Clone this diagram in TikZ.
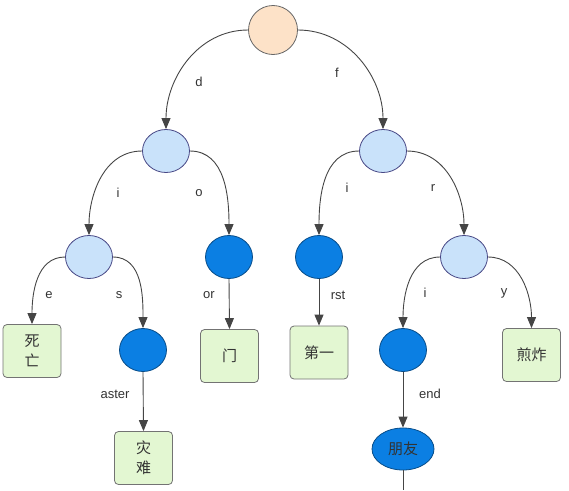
\documentclass[tikz,border=0pt]{standalone}
\usepackage{fontspec}
\setmainfont{Liberation Sans}
\newfontfamily\cjk{Noto Sans CJK SC}
\usetikzlibrary{arrows.meta,shapes.geometric}
\definecolor{rootfill}{HTML}{FDE2C8}
\definecolor{lightfill}{HTML}{C9E2FA}
\definecolor{darkfill}{HTML}{0B7FE3}
\definecolor{leaffill}{HTML}{E3F7D2}
\definecolor{edgecol}{HTML}{454545}
\definecolor{labcol}{HTML}{333333}
\begin{document}
\begin{tikzpicture}[x=1pt,y=-1pt,
  rootnode/.style={circle,draw=gray!80!black,fill=rootfill,line width=0.8pt,minimum size=49pt,inner sep=0pt},
  lightnode/.style={ellipse,draw=gray!70!blue!80!black,fill=lightfill,line width=0.8pt,minimum width=47pt,minimum height=43pt,inner sep=0pt},
  darknode/.style={ellipse,draw=darkfill!60!black,fill=darkfill,line width=0.8pt,minimum width=47pt,minimum height=43pt,inner sep=0pt},
  leafbox/.style={rectangle,rounded corners=4pt,draw=gray!90!black,fill=leaffill,line width=0.8pt,minimum width=58pt,minimum height=53pt,inner sep=0pt,font=\cjk\fontsize{15}{20}\selectfont,text=labcol,align=center},
  conn/.style={draw=edgecol,line width=0.9pt,-{Triangle[length=11pt,width=9pt]}},
  lab/.style={font=\fontsize{13}{15}\selectfont,text=labcol,inner sep=0pt}]
\useasboundingbox (0,0) rectangle (569,490);
% nodes
\node[rootnode] (root) at (273,30) {};
\node[lightnode] (d) at (166,151) {};
\node[lightnode] (f) at (383,151) {};
\node[lightnode] (di) at (89,257) {};
\node[darknode] (do) at (229,257) {};
\node[darknode] (fi) at (319,257) {};
\node[lightnode] (fr) at (464,257) {};
\node[leafbox] (sw) at (32,351) {死\\亡};
\node[darknode] (ds) at (143,350) {};
\node[leafbox] (men) at (229.5,356) {门};
\node[leafbox] (zn) at (143.5,458) {灾\\难};
\node[leafbox] (dy) at (319,352.5) {第一};
\node[darknode] (fri) at (403,350) {};
\node[leafbox] (jz) at (531.5,355) {煎炸};
\node[darknode,minimum width=62pt,minimum height=42pt,font=\cjk\fontsize{15}{20}\selectfont,text=labcol] (py) at (403,449) {朋友};
\coordinate (bot) at (403,490);
% connectors
\draw[conn] (root.west) to[out=180,in=90] (d.north);
\draw[conn] (root.east) to[out=0,in=90] (f.north);
\draw[conn] (d.west) to[out=180,in=90] (di.north);
\draw[conn] (d.east) to[out=0,in=90] (do.north);
\draw[conn] (f.west) to[out=180,in=90] (fi.north);
\draw[conn] (f.east) to[out=0,in=90] (fr.north);
\draw[conn] (di.west) to[out=180,in=90] (sw.north);
\draw[conn] (di.east) to[out=0,in=90] (ds.north);
\draw[conn] (fr.west) to[out=180,in=90] (fri.north);
\draw[conn] (fr.east) to[out=0,in=90] (jz.north);
\draw[conn] (do.south) -- (men.north);
\draw[conn] (ds.south) -- (zn.north);
\draw[conn] (fi.south) -- (dy.north);
\draw[conn] (fri.south) -- (py.north);
\draw[draw=edgecol,line width=0.9pt] (py.south) -- (bot);
% labels
\node[lab] at (199,82) {d};
\node[lab] at (337,73) {f};
\node[lab] at (118,193) {i};
\node[lab] at (199,193) {o};
\node[lab] at (347,188) {i};
\node[lab] at (433,188) {r};
\node[lab] at (49,295) {e};
\node[lab] at (119,295) {s};
\node[lab] at (209,295) {or};
\node[lab] at (338,295) {rst};
\node[lab] at (425,293) {i};
\node[lab] at (504,293) {y};
\node[lab] at (115,394) {aster};
\node[lab] at (430,394) {end};
\end{tikzpicture}
\end{document}
